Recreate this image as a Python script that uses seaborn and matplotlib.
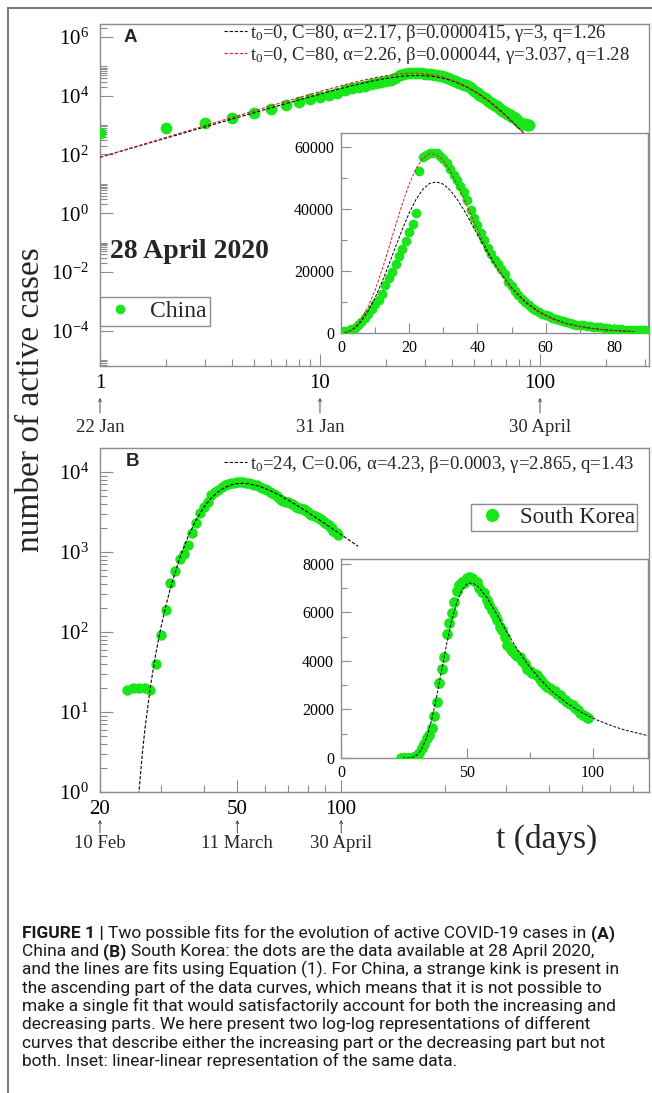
import matplotlib
matplotlib.use("Agg")
import matplotlib.pyplot as plt
import matplotlib.ticker as mticker
import matplotlib.transforms as mtransforms
from matplotlib.lines import Line2D
from matplotlib.patches import Rectangle
from matplotlib import font_manager
import seaborn as sns

# ---------------- data ----------------
china_days = list(range(1, 90))
china_active = [540, 780, 1150, 1750, 2500, 3500, 4700, 6200, 7800, 9200,
                10600, 12700, 15400, 17800, 19600, 22200, 24800, 27200, 29800, 32500,
                35300, 38600, 52200, 56900, 57500, 58000, 58100, 57900, 57200, 56200,
                54700, 52800, 51000, 49500, 47400, 45400, 42900, 39800, 37200, 34800,
                32400, 29900, 27500, 25400, 23700, 22300, 20600, 19100, 16400, 15000,
                13700, 12300, 10900, 10100, 9100, 8200, 7500, 6700, 6100, 5700,
                5400, 4900, 4600, 4300, 3800, 3500, 3100, 2900, 2700, 2600,
                2450, 2400, 2200, 2000, 1950, 1900, 1750, 1600, 1450, 1300,
                1200, 1150, 1100, 1080, 1060, 1050, 1040, 1030, 1000]

korea_days = list(range(24, 99))
korea_active = [19, 20, 20, 20, 19, 40, 92, 188, 413, 578,
                807, 945, 1227, 1731, 2299, 3106, 3686, 4159, 5124, 5547,
                5965, 6416, 6862, 7145, 7259, 7212, 7407, 7470, 7402, 7300,
                7253, 7024, 6832, 6789, 6527, 6325, 6085, 5884, 5684, 5410,
                5281, 4966, 4665, 4523, 4398, 4275, 4216, 4155, 3979, 3867,
                3654, 3591, 3500, 3445, 3408, 3246, 3125, 3026, 2930, 2873,
                2808, 2750, 2627, 2576, 2484, 2385, 2324, 2233, 2179, 2051,
                1967, 1843, 1769, 1731, 1654]

# fitted curves
china_fit_t = [1, 1.5, 2, 3, 4, 5, 6, 8, 10, 12, 14, 16, 18, 20, 22, 24, 26, 28, 30, 32,
               34, 36, 38, 40, 43, 46, 50, 54, 58, 62, 66, 70, 74, 78, 82, 86]
china_fit_black = [80, 193, 360, 867, 1616, 2615, 3870, 7138, 11354, 16371,
                   21961, 27790, 33505, 38722, 43087, 46337, 48249, 48720, 47993, 46055,
                   43208, 39709, 35830, 31807, 25878, 20541, 14580, 10095, 6879, 4641,
                   3123, 2099, 1417, 962, 658, 453]
china_fit_red = [80, 200, 383, 957, 1830, 3021, 4542, 8582, 13881, 20245,
                 27336, 34676, 41735, 48032, 52975, 56319, 57812, 57497, 55548, 52298,
                 48112, 43341, 38383, 33478, 26589, 20636, 14360, 9779, 6608, 4447,
                 2989, 2025, 1381, 948, 659, 462]

korea_fit_t = [24.5, 25, 25.5, 25.9, 26, 26.5, 27, 28, 29, 30, 31, 32, 34, 36, 38, 40, 42, 44,
               46, 48, 50, 52, 54, 58, 62, 66, 70, 74, 79, 84, 90, 96, 102, 108, 112, 114, 122]
korea_fit = [0.003, 0.06, 0.334, 0.905, 1.124, 2.882, 6.214, 20.81, 52.69, 111.7, 208.5, 353.9,
             825.8, 1563, 2529, 3623, 4710, 5662, 6404, 6901, 7167, 7217, 7121, 6612, 5904,
             5168, 4487, 3884, 3251, 2734, 2242, 1856, 1553, 1313, 1178, 1120, 921]

labA1 = r'$\mathregular{t_0}$=0, C=80, α=2.17, β=0.0000415, γ=3, q=1.26'
labA2 = r'$\mathregular{t_0}$=0, C=80, α=2.26, β=0.000044, γ=3.037, q=1.28'
labB = r'$\mathregular{t_0}$=24, C=0.06, α=4.23, β=0.0003, γ=2.865, q=1.43'

datesA_x = [1, 10, 100]
datesA = ['22 Jan', '31 Jan', '30 April']
datesB_x = [20, 50, 100]
datesB = ['10 Feb', '11 March', '30 April']

caption_lines = [
    [("FIGURE 1 | ", "bold"), ("Two possible fits for the evolution of active COVID-19 cases in ", "normal"), ("(A)", "bold")],
    [("China and ", "normal"), ("(B)", "bold"), (" South Korea: the dots are the data available at 28 April 2020,", "normal")],
    [("and the lines are fits using Equation (1). For China, a strange kink is present in", "normal")],
    [("the ascending part of the data curves, which means that it is not possible to", "normal")],
    [("make a single fit that would satisfactorily account for both the increasing and", "normal")],
    [("decreasing parts. We here present two log-log representations of different", "normal")],
    [("curves that describe either the increasing part or the decreasing part but not", "normal")],
    [("both. Inset: linear-linear representation of the same data.", "normal")],
]

# ---------------- style ----------------
sns.set_style("white")
plt.rcParams['font.family'] = ['Liberation Serif', 'DejaVu Serif']
plt.rcParams['mathtext.fontset'] = 'stix'

GREEN = '#19e619'
RED = '#d82020'
SPINE = '#8c8c8c'

W, H = 652, 1093
fig = plt.figure(figsize=(W / 100, H / 100), dpi=100)


def fx(px):
    return px / W


def fy(py):
    return 1 - py / H


def box(l, t, r, b):
    return [fx(l), fy(b), fx(r) - fx(l), fy(t) - fy(b)]


# outer frame
fig.add_artist(Rectangle((fx(7.5), fy(1110)), 1.0, fy(7.5) - fy(1110), transform=fig.transFigure,
                         fill=False, edgecolor='#6e6e6e', linewidth=1.3, zorder=0))

axA = fig.add_axes(box(100, 24, 649, 366))
axB = fig.add_axes(box(100, 448, 649, 792))
inA = fig.add_axes(box(341, 133, 648, 333))
inB = fig.add_axes(box(341, 559, 648, 758))


def style(ax, maj, mino, lsize, pad):
    for sp in ax.spines.values():
        sp.set_visible(True)
        sp.set_color(SPINE)
        sp.set_linewidth(1.0)
    ax.tick_params(which='both', direction='in', color=SPINE, width=0.8,
                   bottom=True, left=True, top=False, right=False, labelcolor='black')
    ax.tick_params(which='major', length=maj, labelsize=lsize, pad=pad)
    ax.tick_params(which='minor', length=mino)
    ax.set_xlabel('')
    ax.set_ylabel('')


def fitline(ax, x, y, color, lw=0.8, dashes=(3, 1.6)):
    sns.lineplot(x=x, y=y, ax=ax, color=color, linewidth=lw, zorder=4,
                 estimator=None, sort=False, legend=False)
    ax.lines[-1].set_dashes(dashes)


# ---------------- panel A (log-log) ----------------
axA.set_xscale('log')
axA.set_yscale('log')
sns.scatterplot(x=china_days, y=china_active, ax=axA, color=GREEN, s=72, linewidth=0,
                zorder=3, legend=False)
fitline(axA, china_fit_t, china_fit_black, 'black')
fitline(axA, china_fit_t, china_fit_red, RED)
axA.set_xlim(1, 313)
axA.set_ylim(10 ** -5.2, 10 ** 6.44)
axA.set_xticks([1, 10, 100])
axA.set_xticklabels(['1', '10', '100'])
axA.xaxis.set_minor_locator(mticker.LogLocator(base=10, subs=range(2, 10)))
axA.xaxis.set_minor_formatter(mticker.NullFormatter())
axA.set_yticks([1e-4, 1e-2, 1, 1e2, 1e4, 1e6])
axA.yaxis.set_major_formatter(mticker.LogFormatterMathtext())
axA.yaxis.set_minor_locator(mticker.FixedLocator(
    [k * 10.0 ** e for e in range(-6, 7, 2) for k in range(2, 11)]))
axA.yaxis.set_minor_formatter(mticker.NullFormatter())
style(axA, 9, 5, 15, 8)
axA.tick_params(axis='x', which='major', pad=6)

# ---------------- panel B (log-log) ----------------
axB.set_xscale('log')
axB.set_yscale('log')
sns.scatterplot(x=korea_days, y=korea_active, ax=axB, color=GREEN, s=56, linewidth=0,
                zorder=3, legend=False)
kt = [t for t in korea_fit_t if t <= 112]
fitline(axB, kt, korea_fit[:len(kt)], 'black')
axB.set_xlim(20, 780)
axB.set_ylim(1, 10 ** 4.3)
axB.set_xticks([20, 50, 100])
axB.set_xticklabels(['20', '50', '100'])
axB.xaxis.set_minor_locator(mticker.FixedLocator([30, 40, 60, 70, 80, 90, 200, 300, 400, 500, 600, 700]))
axB.xaxis.set_minor_formatter(mticker.NullFormatter())
axB.set_yticks([1, 10, 100, 1000, 10000])
axB.yaxis.set_major_formatter(mticker.LogFormatterMathtext())
axB.yaxis.set_minor_locator(mticker.LogLocator(base=10, subs=range(2, 10)))
axB.yaxis.set_minor_formatter(mticker.NullFormatter())
style(axB, 9, 5, 15, 8)
axB.tick_params(axis='x', which='major', pad=6)

# ---------------- inset A (linear) ----------------
sns.scatterplot(x=china_days, y=china_active, ax=inA, color=GREEN, s=49, linewidth=0,
                zorder=3, legend=False)
fitline(inA, china_fit_t, china_fit_black, 'black', lw=0.7)
fitline(inA, china_fit_t, china_fit_red, RED, lw=0.7)
inA.set_xlim(0, 90)
inA.set_ylim(0, 64500)
inA.set_xticks([0, 20, 40, 60, 80])
inA.set_xticks([10, 30, 50, 70, 90], minor=True)
inA.set_yticks([0, 20000, 40000, 60000])
inA.set_yticks([10000, 30000, 50000], minor=True)
inA.xaxis.set_major_formatter(mticker.StrMethodFormatter('{x:.0f}'))
inA.yaxis.set_major_formatter(mticker.StrMethodFormatter('{x:.0f}'))
style(inA, 7, 4.5, 11.5, 5)

# ---------------- inset B (linear) ----------------
sns.scatterplot(x=korea_days, y=korea_active, ax=inB, color=GREEN, s=60, linewidth=0,
                zorder=3, legend=False)
fitline(inB, korea_fit_t, korea_fit, 'black', lw=0.7)
inB.set_xlim(0, 122)
inB.set_ylim(0, 8200)
inB.set_xticks([0, 50, 100])
inB.set_xticks([25, 75], minor=True)
inB.set_yticks([0, 2000, 4000, 6000, 8000])
inB.set_yticks([1000, 3000, 5000, 7000], minor=True)
inB.xaxis.set_major_formatter(mticker.StrMethodFormatter('{x:.0f}'))
inB.yaxis.set_major_formatter(mticker.StrMethodFormatter('{x:.0f}'))
style(inB, 7, 4.5, 11.5, 5)

# ---------------- legends ----------------
hb = Line2D([], [], color='black', lw=0.8, dashes=(3, 1.6))
hr = Line2D([], [], color=RED, lw=0.8, dashes=(3, 1.6))
fig.legend([hb, hr], [labA1, labA2], loc='upper left', bbox_to_anchor=(fx(224), fy(23)),
           bbox_transform=fig.transFigure, frameon=False, prop={'size': 13.5},
           handlelength=1.25, handletextpad=0.15, labelspacing=0.05, borderpad=0, borderaxespad=0)
fig.legend([hb], [labB], loc='upper left', bbox_to_anchor=(fx(224), fy(454)),
           bbox_transform=fig.transFigure, frameon=False, prop={'size': 13.5},
           handlelength=1.25, handletextpad=0.15, borderpad=0, borderaxespad=0)

hc = Line2D([], [], marker='o', ls='none', color=GREEN, markersize=6)
lc = fig.legend([hc], ['China'], loc='upper left', bbox_to_anchor=(fx(100), fy(297)),
                bbox_transform=fig.transFigure, frameon=True, fancybox=False, framealpha=1,
                edgecolor='#8c8c8c', prop={'size': 17}, borderpad=0.15, handlelength=1.4,
                handletextpad=0.55, borderaxespad=0)
lc.get_frame().set_linewidth(1.0)
hk = Line2D([], [], marker='o', ls='none', color=GREEN, markersize=8.5)
lk = fig.legend([hk], ['South Korea'], loc='upper left', bbox_to_anchor=(fx(471), fy(504)),
                bbox_transform=fig.transFigure, frameon=True, fancybox=False, framealpha=1,
                edgecolor='#8c8c8c', prop={'size': 16.5}, borderpad=0.12, handlelength=1.6,
                handletextpad=0.4, borderaxespad=0)
lk.get_frame().set_linewidth(1.0)

# ---------------- annotations ----------------
fig.text(fx(124), fy(37), 'A', family='Liberation Sans', fontweight='bold', fontsize=13.5,
         ha='left', va='center')
fig.text(fx(126), fy(462), 'B', family='Liberation Sans', fontweight='bold', fontsize=13.5,
         ha='left', va='center')
fig.text(fx(110), fy(252), '28 April 2020', fontweight='bold', fontsize=20, ha='left', va='center')
fig.text(fx(31), fy(400), 'number of active cases', rotation=90, fontsize=24,
         ha='center', va='center')
fig.text(fx(547), fy(839), 't (days)', fontsize=24, ha='center', va='center')


def date_marks(ax, xs, labels, y_tip, y_tail, y_text):
    tr = mtransforms.blended_transform_factory(ax.transData, fig.transFigure)
    for x, lab in zip(xs, labels):
        ax.annotate('', xy=(x, fy(y_tip)), xycoords=tr, xytext=(x, fy(y_tail)), textcoords=tr,
                    arrowprops=dict(arrowstyle='->', lw=0.6, color='#333333', shrinkA=0,
                                    shrinkB=0, mutation_scale=5),
                    annotation_clip=False)
        ax.text(x, fy(y_text), lab, transform=tr, ha='center', va='center', fontsize=13.5,
                clip_on=False)


date_marks(axA, datesA_x, datesA, 398, 413, 428)
date_marks(axB, datesB_x, datesB, 820, 833, 844)

# ---------------- caption ----------------


def has_font(name):
    try:
        font_manager.findfont(font_manager.FontProperties(family=name), fallback_to_default=False)
        return True
    except Exception:
        return False


cap_family = 'Roboto' if has_font('Roboto') else 'Liberation Sans'
renderer = fig.canvas.get_renderer()


def twidth(s, size, weight):
    t1 = fig.text(0, 0, '|' + s + '|', fontsize=size, fontweight=weight, family=cap_family)
    t2 = fig.text(0, 0, '||', fontsize=size, fontweight=weight, family=cap_family)
    w = t1.get_window_extent(renderer).width - t2.get_window_extent(renderer).width
    t1.remove()
    t2.remove()
    return w


w10 = sum(twidth(s, 10, wt) for s, wt in caption_lines[0])
cap_size = min(12.5, 10 * 622 / w10)

for i, line in enumerate(caption_lines):
    x = 22.0
    base = 938 + 18.3 * i
    for seg, wt in line:
        lead = seg[:len(seg) - len(seg.lstrip())]
        x0 = x + (twidth(lead, cap_size, wt) if lead else 0)
        fig.text(fx(x0), fy(base), seg.lstrip(), fontsize=cap_size, fontweight=wt,
                 family=cap_family, ha='left', va='baseline', color='#1a1a1a')
        x += twidth(seg, cap_size, wt)

fig.savefig('out.png', dpi=100)
